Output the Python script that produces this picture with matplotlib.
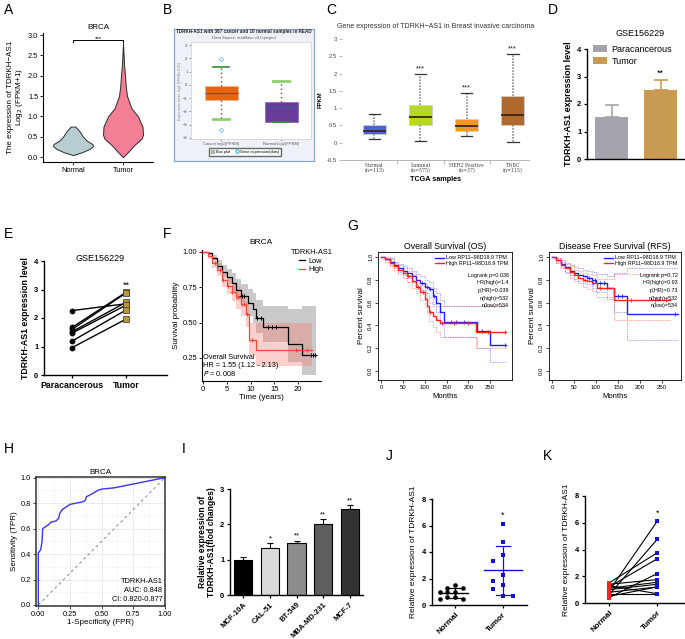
import matplotlib
matplotlib.use("Agg")
import matplotlib.pyplot as plt
import numpy as np
from matplotlib.patches import Patch
from matplotlib.lines import Line2D

plt.rcParams["font.family"] = ["Liberation Sans", "DejaVu Sans"]
plt.rcParams["axes.linewidth"] = 0.8

W, H = 685, 639

# ---- A: violin (profile of each violin: level, half width)
a_groups = ["Normal", "Tumor"]
a_norm_y = [0.05, 0.12, 0.2, 0.27, 0.32, 0.4, 0.5, 0.6, 0.68, 0.73, 0.75]
a_norm_w = [0.0, 0.18, 0.33, 0.4, 0.39, 0.28, 0.2, 0.15, 0.1, 0.06, 0.05]
a_tum_y = [0.0, 0.15, 0.3, 0.45, 0.55, 0.75, 1.0, 1.2, 1.5, 1.75, 2.0, 2.3, 2.6, 2.8]
a_tum_w = [0.0, 0.12, 0.23, 0.37, 0.4, 0.39, 0.3, 0.17, 0.08, 0.055, 0.04, 0.02, 0.008, 0.0]

# ---- B: starBase box plot
b_labels = ["Cancer log2(FPKM)", "Normal log2(FPKM)"]
b_med = [-0.6, -1.69]
b_q1 = [-1.13, -2.77]
b_q3 = [-0.08, -1.26]
b_lo = [-2.6, -2.8]
b_hi = [1.37, 0.32]
b_fliers = [[1.95, -3.4], []]

# ---- C: UALCAN box plot
c_labels = ["Normal\n(n=113)", "Luminal\n(n=575)", "HER2 Positive\n(n=37)", "TNBC\n(n=115)"]
c_med = [0.33, 0.75, 0.48, 0.79]
c_q1 = [0.25, 0.5, 0.35, 0.5]
c_q3 = [0.5, 1.08, 0.68, 1.35]
c_lo = [0.1, 0.05, 0.19, 0.02]
c_hi = [0.83, 1.98, 1.44, 2.57]
c_sig = ["", "***", "***", "***"]

# ---- D: GSE156229 bars
d_groups = ["Paracancerous", "Tumor"]
d_mean = [1.52, 2.5]
d_err = [0.43, 0.37]

# ---- E: paired GSE156229
e_para = [2.26, 1.67, 1.6, 1.52, 1.47, 1.19, 0.96]
e_tumor = [2.5, 2.9, 2.88, 2.55, 2.45, 2.28, 1.96]

# ---- F: KM BRCA (years)
f_low_t = [0, 1, 2, 3, 4, 5, 6, 7, 8, 9.5, 10.5, 11.2, 12.7, 17.9, 20.8, 23.8]
f_low_s = [1, 0.99, 0.96, 0.9, 0.86, 0.82, 0.78, 0.73, 0.69, 0.64, 0.6, 0.53, 0.47, 0.35, 0.27, 0.27]
f_low_lo = [1, 0.98, 0.94, 0.87, 0.82, 0.77, 0.72, 0.66, 0.61, 0.55, 0.5, 0.43, 0.36, 0.22, 0.13, 0.13]
f_low_hi = [1, 1, 0.98, 0.94, 0.91, 0.88, 0.85, 0.81, 0.77, 0.74, 0.71, 0.66, 0.62, 0.6, 0.62, 0.62]
f_high_t = [0, 1, 2, 3, 4, 5, 6, 7, 8, 9, 9.7, 11.2, 22.9]
f_high_s = [1, 0.97, 0.92, 0.87, 0.8, 0.76, 0.72, 0.68, 0.63, 0.56, 0.38, 0.305, 0.305]
f_high_lo = [1, 0.95, 0.89, 0.83, 0.75, 0.7, 0.65, 0.6, 0.55, 0.47, 0.27, 0.19, 0.19]
f_high_hi = [1, 0.99, 0.96, 0.92, 0.86, 0.82, 0.79, 0.75, 0.71, 0.65, 0.5, 0.5, 0.5]
f_low_cens = [8.0, 8.3, 8.7, 11.4, 12.2, 13.7, 14.6, 15.3, 22.8, 23.1, 23.5]
f_high_cens = [2.5, 3.5, 4.2, 5.3, 6.2, 7.4, 8.6, 9.2, 10.3, 19.5, 21.0, 21.8]

# ---- G: GEPIA OS / RFS (months)
os_low_t = [0, 10, 20, 30, 40, 50, 60, 70, 80, 90, 100, 110, 118, 126, 134, 145, 220, 250, 287]
os_low_s = [1, 0.985, 0.96, 0.93, 0.9, 0.88, 0.86, 0.83, 0.8, 0.77, 0.74, 0.72, 0.66, 0.6, 0.52, 0.43, 0.35, 0.23, 0.23]
os_low_hi = [1, 1, 0.99, 0.96, 0.94, 0.92, 0.9, 0.88, 0.85, 0.83, 0.8, 0.78, 0.73, 0.68, 0.62, 0.57, 0.57, 0.57, 0.57]
os_low_lo = [1, 0.97, 0.93, 0.9, 0.87, 0.84, 0.82, 0.78, 0.75, 0.71, 0.68, 0.65, 0.59, 0.52, 0.42, 0.3, 0.2, 0.08, 0.08]
os_high_t = [0, 10, 20, 30, 40, 50, 60, 70, 80, 90, 100, 105, 110, 118, 126, 134, 218, 287]
os_high_s = [1, 0.98, 0.95, 0.92, 0.89, 0.86, 0.83, 0.79, 0.74, 0.69, 0.63, 0.57, 0.52, 0.48, 0.45, 0.42, 0.34, 0.34]
os_high_hi = [1, 0.99, 0.98, 0.95, 0.93, 0.9, 0.88, 0.84, 0.8, 0.75, 0.7, 0.64, 0.6, 0.57, 0.57, 0.57, 0.57, 0.57]
os_high_lo = [1, 0.96, 0.92, 0.89, 0.85, 0.82, 0.78, 0.73, 0.68, 0.62, 0.56, 0.5, 0.44, 0.39, 0.34, 0.3, 0.2, 0.2]
os_low_cens = [95, 105, 113, 122, 160, 172, 190, 232, 283]
os_high_cens = [62, 84, 96, 112, 140, 168, 200, 245, 285]
os_stats = ["Logrank p=0.038", "HR(high)=1.4", "p(HR)=0.039", "n(high)=532", "n(low)=534"]

rfs_low_t = [0, 10, 20, 30, 40, 50, 60, 70, 80, 90, 100, 126, 140, 170, 286]
rfs_low_s = [1, 0.97, 0.94, 0.91, 0.88, 0.86, 0.84, 0.83, 0.82, 0.8, 0.77, 0.73, 0.66, 0.5, 0.5]
rfs_low_hi = [1, 0.99, 0.97, 0.95, 0.93, 0.91, 0.9, 0.89, 0.88, 0.87, 0.85, 0.83, 0.86, 0.9, 0.9]
rfs_low_lo = [1, 0.95, 0.91, 0.87, 0.84, 0.81, 0.79, 0.77, 0.76, 0.73, 0.69, 0.63, 0.52, 0.27, 0.27]
rfs_high_t = [0, 10, 20, 30, 40, 50, 60, 70, 80, 90, 103, 140, 267]
rfs_high_s = [1, 0.97, 0.93, 0.9, 0.87, 0.84, 0.82, 0.8, 0.79, 0.77, 0.73, 0.62, 0.62]
rfs_high_hi = [1, 0.99, 0.96, 0.94, 0.92, 0.89, 0.88, 0.86, 0.85, 0.84, 0.81, 0.85, 0.85]
rfs_high_lo = [1, 0.95, 0.9, 0.86, 0.82, 0.79, 0.77, 0.74, 0.72, 0.7, 0.65, 0.45, 0.45]
rfs_low_cens = [85, 98, 108, 118, 150, 160, 280]
rfs_high_cens = [75, 92, 110, 125, 180, 235, 260]
rfs_stats = ["Logrank p=0.72", "HR(high)=0.93", "p(HR)=0.73", "n(high)=532", "n(low)=534"]

# ---- H: ROC
h_fpr = [0, 0, 0.01, 0.02, 0.03, 0.035, 0.05, 0.08, 0.1, 0.14, 0.16, 0.17, 0.19, 0.22, 0.25,
         0.3, 0.35, 0.37, 0.38, 0.42, 0.47, 0.5, 0.6, 0.7, 0.8, 0.9, 1.0]
h_tpr = [0, 0.41, 0.42, 0.44, 0.5, 0.6, 0.61, 0.63, 0.65, 0.66, 0.68, 0.72, 0.75, 0.77, 0.79,
         0.8, 0.81, 0.82, 0.85, 0.87, 0.9, 0.91, 0.92, 0.94, 0.96, 0.98, 1.0]

# ---- I: cell lines
i_cells = ["MCF-10A", "CAL-51", "BT-549", "MBA-MD-231", "MCF-7"]
i_vals = [1.0, 1.32, 1.48, 2.0, 2.42]
i_err = [0.08, 0.14, 0.05, 0.15, 0.12]
i_sig = ["", "*", "**", "**", "**"]

# ---- J / K: qPCR tissues
j_normal = [1.5, 1.3, 1.25, 1.0, 1.0, 1.0, 0.63, 0.63, 0.43, 0.43]
j_tumor = [6.1, 4.75, 3.75, 3.3, 2.25, 1.8, 1.5, 1.2, 0.7, 0.7]
k_normal = [0.9, 0.6, 1.5, 1.2, 0.4, 1.4, 1.1, 1.0, 0.5, 0.8, 1.3, 0.7]
k_tumor = [6.1, 4.75, 3.75, 3.3, 2.2, 1.75, 1.55, 1.4, 1.2, 1.2, 0.7, 0.7]


def px_ax(fig, l, t, r, b):
    return fig.add_axes([l / W, 1 - b / H, (r - l) / W, (b - t) / H])


def ftext(fig, x, y, s, **kw):
    fig.text(x / W, 1 - y / H, s, **kw)


def bold_ticks(ax):
    for lbl in ax.get_xticklabels() + ax.get_yticklabels():
        lbl.set_fontweight("bold")


def prism_axes(ax):
    ax.spines[["top", "right"]].set_visible(False)
    ax.spines[["left", "bottom"]].set_linewidth(1.0)
    ax.tick_params(labelsize=5.5, length=2.5, width=0.9, pad=1.5)


def swarm(vals, dx, dy):
    vals = np.asarray(vals, float)
    offs = np.zeros(len(vals))
    placed = []
    cands = [0.0] + [s * k * dx for k in range(1, 8) for s in (-1, 1)]
    for i in np.argsort(-vals):
        for c in cands:
            if all(abs(c - offs[j]) >= dx * 0.99 or abs(vals[i] - vals[j]) >= dy for j in placed):
                offs[i] = c
                break
        placed.append(i)
    return offs


def step_at(t, s, x):
    idx = np.searchsorted(t, x, side="right") - 1
    return np.asarray(s)[idx]


def panel_a(fig):
    ax = px_ax(fig, 43, 33, 153, 162)
    for pos, ys, ws, col in [(1, a_norm_y, a_norm_w, "#b7cdd1"), (2, a_tum_y, a_tum_w, "#f27f93")]:
        ys = np.array(ys)
        ws = np.array(ws)
        ax.fill_betweenx(ys, pos - ws, pos + ws, facecolor=col, edgecolor="#2b2b2b", lw=0.7)
    ax.set_xlim(0.4, 2.6)
    ax.set_ylim(-0.12, 3.05)
    ax.set_xticks([1, 2], a_groups)
    yt = np.arange(0, 3.01, 0.5)
    ax.set_yticks(yt, [f"{v:.1f}" for v in yt])
    ax.spines[["top", "right"]].set_visible(False)
    ax.tick_params(labelsize=5.3, length=2, width=0.6, pad=1.5)
    top = max(a_tum_y) + 0.08
    ax.plot([1, 1, 2, 2], [top - 0.06, top, top, top - 0.06], color="k", lw=0.7)
    ax.text(1.5, top - 0.02, "***", ha="center", va="bottom", fontsize=4.5)
    ax.set_ylabel("The expression of TDRKH\u2212AS1\nLog$_2$ (FPKM+1)", fontsize=5.8, labelpad=2,
                  linespacing=0.95)
    ax.set_title("BRCA", fontsize=5.8, pad=3)


def panel_b(fig):
    frame = px_ax(fig, 174, 29, 314, 161)
    frame.set_facecolor("#eef2f8")
    frame.set_xticks([])
    frame.set_yticks([])
    for sp in frame.spines.values():
        sp.set_color("#86a0cc")
        sp.set_linewidth(0.8)
    ftext(fig, 244, 32, "TDRKH-AS1 with 367 cancer and 10 normal samples in READ",
          ha="center", va="center", fontsize=3.3, fontweight="bold", color="#222")
    ftext(fig, 244, 37.5, "Data Source: starBase v3.0 project", ha="center", va="center",
          fontsize=3.0, color="#555")

    ax = px_ax(fig, 191, 42, 311, 139)
    ax.set_facecolor("white")
    stats = []
    for k in range(2):
        stats.append(dict(med=b_med[k], q1=b_q1[k], q3=b_q3[k], whislo=b_lo[k],
                          whishi=b_hi[k], fliers=b_fliers[k], label=b_labels[k]))
    bp = ax.bxp(stats, positions=[0, 1], widths=0.55, patch_artist=True,
                whiskerprops=dict(color="#b02a2a", linestyle=(0, (1, 2)), lw=1.0),
                capprops=dict(color="#3a9a3a", lw=1.4),
                medianprops=dict(color="#3a5fa0", lw=0.9),
                flierprops=dict(marker="D", markerfacecolor="none", markeredgecolor="#67c3e6",
                                markersize=2.2, markeredgewidth=0.6))
    for patch, col in zip(bp["boxes"], ["#e8650c", "#693c9a"]):
        patch.set_facecolor(col)
        patch.set_edgecolor("#f2b48a" if col == "#e8650c" else "#8e6cc0")
        patch.set_linewidth(0.6)
    # caps: lower/upper per box -> light green on the long ends
    for cap, col, lw in zip(bp["caps"], ["#8fce6f", "#2f8f2f", "#2f8f2f", "#8fce6f"],
                            [2.0, 1.2, 1.2, 2.0]):
        cap.set_color(col)
        cap.set_linewidth(lw)
    ax.set_xlim(-0.5, 1.5)
    ax.set_ylim(-4.08, 3.23)
    ax.set_yticks(range(-4, 4))
    ax.tick_params(labelsize=3.0, length=1.5, width=0.4, colors="#555", pad=1)
    for sp in ax.spines.values():
        sp.set_color("#d4d4d4")
        sp.set_linewidth(0.6)
    ax.set_ylabel("Expression level: log2 (FPKM+0.01)", fontsize=2.6, color="#888", labelpad=1)
    handles = [Patch(facecolor="#c9c9c9", edgecolor="#aaa"),
               Line2D([], [], marker="D", color="none", markerfacecolor="none",
                      markeredgecolor="#67c3e6", markersize=2.2)]
    ax.legend(handles, ["Box plot", "Gene expression(dots)"], loc="upper center",
              bbox_to_anchor=(0.45, -0.07), ncol=2, fontsize=2.8, frameon=True, fancybox=False,
              edgecolor="#444", borderpad=0.5, handlelength=1.0, columnspacing=1.2,
              handletextpad=0.4)


def panel_c(fig):
    ax = px_ax(fig, 342, 39, 529, 160)
    stats = []
    for k in range(4):
        stats.append(dict(med=c_med[k], q1=c_q1[k], q3=c_q3[k], whislo=c_lo[k],
                          whishi=c_hi[k], fliers=[], label=c_labels[k]))
    bp = ax.bxp(stats, positions=range(4), widths=0.5, patch_artist=True,
                whiskerprops=dict(color="#8a8a8a", linestyle=(0, (1, 0.8)), lw=1.2),
                capprops=dict(color="#333", lw=0.9),
                medianprops=dict(color="#3a2a10", lw=1.3))
    for patch, col in zip(bp["boxes"], ["#4f5fe0", "#b6d81e", "#f5961e", "#b0692c"]):
        patch.set_facecolor(col)
        patch.set_edgecolor("#cfcfcf")
        patch.set_linewidth(0.6)
    for k, s in enumerate(c_sig):
        if s:
            ax.text(k, c_hi[k] + 0.04, s, ha="center", va="bottom", fontsize=5.5, color="#222")
    ax.set_xlim(-0.7, 3.35)
    ax.set_ylim(-0.5, 3.0)
    yt = [-0.5, 0, 0.5, 1, 1.5, 2, 2.5, 3]
    ax.set_yticks(yt, ["-0.5", "0", "0.5", "1", "1.5", "2", "2.5", "3"])
    ax.set_xticks(range(4))
    ax.set_xticklabels(c_labels, fontsize=3.4, family="serif", color="#444", linespacing=1.1)
    ax.set_xticks([0.5, 1.5, 2.5], minor=True)
    ax.tick_params(axis="x", which="major", length=0, pad=2)
    ax.tick_params(axis="x", which="minor", length=3, color="#999", width=0.5)
    ax.tick_params(axis="y", labelsize=4.2, length=2.5, color="#999", width=0.5,
                   labelcolor="#444", pad=1)
    ax.spines[["top", "right", "left"]].set_visible(False)
    ax.spines["bottom"].set_color("#aaa")
    ax.spines["bottom"].set_linewidth(0.6)
    ax.set_xlabel("TCGA samples", fontsize=5.2, fontweight="bold", labelpad=2)
    ax.set_ylabel("FPKM", fontsize=4.2, fontweight="bold", labelpad=3)
    ax.set_title("Gene expression of TDRKH\u2212AS1 in Breast invasive carcinoma",
                 fontsize=5.0, color="#333", pad=8)


def panel_d(fig):
    ax = px_ax(fig, 587, 49, 685, 159)
    cols = ["#a5a4aa", "#c99a52"]
    x = np.arange(len(d_mean))
    ax.bar(x, d_mean, width=0.68, color=cols)
    for k in range(len(d_mean)):
        ax.errorbar(x[k], d_mean[k], yerr=[[0], [d_err[k]]], fmt="none", ecolor=cols[k],
                    elinewidth=1.2, capsize=5, capthick=1.2)
    ax.text(1, d_mean[1] + d_err[1] + 0.08, "**", ha="center", va="bottom", fontsize=6.5)
    ax.set_xlim(-0.5, 1.5)
    ax.set_ylim(0, 4)
    ax.set_xticks([])
    ax.set_yticks(range(5))
    prism_axes(ax)
    bold_ticks(ax)
    ax.set_ylabel("TDRKH-AS1 expression level", fontsize=6.5, fontweight="bold", labelpad=3)
    ftext(fig, 640, 33, "GSE156229", ha="center", va="center", fontsize=6.5)
    handles = [Patch(facecolor=c) for c in cols]
    ax.legend(handles, d_groups, loc="upper left", bbox_to_anchor=(0.02, 1.07), fontsize=6.5,
              frameon=False, handlelength=1.6, handleheight=0.8, handletextpad=0.5,
              labelspacing=0.3, borderaxespad=0)


def panel_e(fig):
    ax = px_ax(fig, 44, 261, 167, 375)
    for p, t in zip(e_para, e_tumor):
        ax.plot([0, 1], [p, t], color="black", lw=1.0, zorder=2)
    ax.scatter(np.zeros(len(e_para)), e_para, s=10, color="black", zorder=3)
    ax.scatter(np.ones(len(e_tumor)), e_tumor, s=13, marker="s", facecolor="#b8963e",
               edgecolor="#333", linewidth=0.5, zorder=3)
    ax.text(1, max(e_tumor) + 0.08, "**", ha="center", va="bottom", fontsize=6.5)
    ax.set_xlim(-0.52, 1.76)
    ax.set_ylim(0, 4)
    ax.set_xticks([0, 1], ["Paracancerous", "Tumor"])
    ax.set_yticks(range(5))
    prism_axes(ax)
    ax.tick_params(axis="x", labelsize=6.3)
    bold_ticks(ax)
    ax.set_ylabel("TDRKH-AS1 expression level", fontsize=6.3, fontweight="bold", labelpad=3)
    ftext(fig, 100, 258, "GSE156229", ha="center", va="center", fontsize=6.5)


def panel_f(fig):
    ax = px_ax(fig, 202, 250, 321, 381)
    groups = [
        (f_low_t, f_low_s, f_low_lo, f_low_hi, f_low_cens, "black", "#9d9d9d", 0.55),
        (f_high_t, f_high_s, f_high_lo, f_high_hi, f_high_cens, "#f0493c", "#f8766d", 0.35),
    ]
    for t, s, lo, hi, cens, lc, fc, al in groups:
        ax.fill_between(t, lo, hi, step="post", color=fc, alpha=al, lw=0)
    for t, s, lo, hi, cens, lc, fc, al in groups:
        ax.step(t, s, where="post", color=lc, lw=0.9)
        ax.plot(cens, step_at(t, s, cens), "+", color=lc, ms=3.5, mew=0.7)
    ax.set_xlim(-0.2, 24.8)
    ax.set_ylim(0.087, 1.014)
    ax.set_xticks([0, 5, 10, 15, 20])
    ax.set_yticks([0.25, 0.5, 0.75, 1.0], ["0.25", "0.50", "0.75", "1.00"])
    ax.spines[["top", "right"]].set_visible(False)
    ax.tick_params(labelsize=5.5, length=2, width=0.6, pad=1.5)
    ax.set_xlabel("Time (years)", fontsize=5.8, labelpad=1)
    ax.set_ylabel("Survival probability", fontsize=5.8, labelpad=2)
    ax.set_title("BRCA", fontsize=6, pad=4)
    handles = [Line2D([], [], color="black", lw=0.9), Line2D([], [], color="#f0493c", lw=0.9)]
    ax.legend(handles, ["Low", "High"], title="TDRKH-AS1", loc="upper right",
              bbox_to_anchor=(1.12, 1.03), fontsize=5.3, title_fontsize=5.3, frameon=False,
              handlelength=0.8, handletextpad=0.5, labelspacing=0.2, borderaxespad=0)
    ax.text(0.01, 0.02, "Overall Survival\nHR = 1.55 (1.12 - 2.13)\n$P$ = 0.008",
            transform=ax.transAxes, fontsize=5.3, va="bottom", ha="left", linespacing=1.1)


def gepia(ax, low, high, stats, title, xmax):
    for (t, s, lo, hi, cens), col in zip([low, high], ["#2020ff", "#ff2020"]):
        ax.step(t, hi, where="post", color=col, lw=0.6, ls=(0, (1, 1)), alpha=0.55)
        ax.step(t, lo, where="post", color=col, lw=0.6, ls=(0, (1, 1)), alpha=0.55)
        ax.step(t, s, where="post", color=col, lw=1.0)
        ax.plot(cens, step_at(t, s, cens), "|", color=col, ms=3, mew=0.6)
    ax.set_xlim(-6.9, xmax)
    ax.set_ylim(-0.079, 1.044)
    ax.set_xticks(range(0, 251, 50))
    ax.set_yticks(np.arange(0, 1.01, 0.2), [f"{v:.1f}" for v in np.arange(0, 1.01, 0.2)])
    ax.tick_params(labelsize=4.3, length=2, width=0.5, pad=1.5)
    plt.setp(ax.get_yticklabels(), rotation=90, va="center")
    for sp in ax.spines.values():
        sp.set_linewidth(0.6)
    ax.set_title(title, fontsize=6.3, pad=2)
    ax.set_xlabel("Months", fontsize=5.5, labelpad=2)
    ax.set_ylabel("Percent survival", fontsize=5.8, labelpad=2)
    handles = [Line2D([], [], color="#2020ff", lw=1), Line2D([], [], color="#ff2020", lw=1)]
    ax.legend(handles, ["Low RP11\u221298D18.9 TPM", "High RP11\u221298D18.9 TPM"],
              loc="upper right", bbox_to_anchor=(0.99, 0.99), fontsize=3.9, frameon=False,
              handlelength=1.6, handletextpad=0.4, labelspacing=0.1, borderaxespad=0)
    for k, s in enumerate(stats):
        ax.text(0.975, 0.82 - 0.06 * k, s, transform=ax.transAxes, ha="right", va="center",
                fontsize=3.9)


def panel_g(fig):
    ax1 = px_ax(fig, 378, 252, 512, 380)
    gepia(ax1, (os_low_t, os_low_s, os_low_lo, os_low_hi, os_low_cens),
          (os_high_t, os_high_s, os_high_lo, os_high_hi, os_high_cens),
          os_stats, "Overall Survival (OS)", 300)
    ax2 = px_ax(fig, 549, 252, 681, 380)
    gepia(ax2, (rfs_low_t, rfs_low_s, rfs_low_lo, rfs_low_hi, rfs_low_cens),
          (rfs_high_t, rfs_high_s, rfs_high_lo, rfs_high_hi, rfs_high_cens),
          rfs_stats, "Disease Free Survival (RFS)", 293)


def panel_h(fig):
    ax = px_ax(fig, 36, 477, 165, 606)
    ax.plot([0, 1], [0, 1], color="#888", ls=(0, (3, 3)), lw=0.7)
    ax.plot(h_fpr, h_tpr, color="#3636f0", lw=1.0)
    ax.set_xlim(-0.018, 1.0)
    ax.set_ylim(-0.008, 1.005)
    ax.set_xticks([0, 0.25, 0.5, 0.75, 1.0], ["0.00", "0.25", "0.50", "0.75", "1.00"])
    ax.set_yticks(np.arange(0, 1.01, 0.2), [f"{v:.1f}" for v in np.arange(0, 1.01, 0.2)])
    ax.set_xticks(np.arange(0.125, 1, 0.25), minor=True)
    ax.set_yticks(np.arange(0.1, 1, 0.2), minor=True)
    ax.grid(True, which="major", color="#e6e6e6", lw=0.6)
    ax.grid(True, which="minor", color="#f2f2f2", lw=0.4)
    ax.set_axisbelow(True)
    ax.tick_params(labelsize=5.3, length=2, width=0.5, pad=1.5)
    ax.tick_params(which="minor", length=0)
    for sp in ax.spines.values():
        sp.set_linewidth(1.1)
        sp.set_color("#333")
    ax.set_title("BRCA", fontsize=5.8, pad=2)
    ax.set_xlabel("1-Specificity (FPR)", fontsize=5.8, labelpad=1)
    ax.set_ylabel("Sensitivity (TPR)", fontsize=5.8, labelpad=2)
    ax.text(0.98, 0.02, "TDRKH-AS1\nAUC: 0.848\nCI: 0.820-0.877", transform=ax.transAxes,
            ha="right", va="bottom", fontsize=5.3, linespacing=1.45)


def panel_i(fig):
    ax = px_ax(fig, 230, 489, 363, 595)
    x = np.arange(len(i_vals))
    cols = ["#000000", "#d9d9d9", "#8c8c8c", "#5e5e5e", "#333333"]
    ax.bar(x, i_vals, width=0.68, color=cols, edgecolor="black", linewidth=0.8, zorder=2)
    ax.errorbar(x, i_vals, yerr=[np.zeros(len(i_err)), i_err], fmt="none", ecolor="black",
                elinewidth=0.8, capsize=2.5, capthick=0.8, zorder=1)
    for k, s in enumerate(i_sig):
        if s:
            ax.text(k, i_vals[k] + i_err[k] + 0.03, s, ha="center", va="bottom", fontsize=5.5)
    ax.set_xlim(-0.5, 4.5)
    ax.set_ylim(0, 3)
    ax.set_yticks(range(4))
    ax.set_xticks(x, i_cells, rotation=45, ha="right", rotation_mode="anchor")
    prism_axes(ax)
    ax.tick_params(axis="x", labelsize=5.5, pad=2)
    bold_ticks(ax)
    ax.set_ylabel("Relative expression of\nTDRKH-AS1(flod changes)", fontsize=6.2,
                  fontweight="bold", labelpad=3, linespacing=1.0)


def panel_j(fig):
    ax = px_ax(fig, 432, 499, 527, 605)
    for k, (vals, col, mk, half, dx, dy) in enumerate([(j_normal, "black", "o", 0.28, 0.16, 0.3),
                                                      (j_tumor, "#1010e0", "s", 0.4, 0.2, 0.6)]):
        vals = np.asarray(vals)
        offs = swarm(vals, dx, dy)
        ax.scatter(k + offs, vals, s=11, marker=mk, color=col, zorder=3, linewidths=0)
        m = vals.mean()
        sd = vals.std(ddof=1)
        ax.plot([k - half, k + half], [m, m], color=col, lw=1.0, zorder=2)
        ax.plot([k, k], [m - sd, m + sd], color=col, lw=0.9, zorder=2)
        ax.plot([k - 0.14, k + 0.14], [m - sd, m - sd], color=col, lw=0.9, zorder=2)
        ax.plot([k - 0.14, k + 0.14], [m + sd, m + sd], color=col, lw=0.9, zorder=2)
    ax.text(1, max(j_tumor) + 0.35, "*", ha="center", va="bottom", fontsize=6.5)
    ax.set_xlim(-0.48, 1.5)
    ax.set_ylim(0, 8)
    ax.set_yticks(range(0, 9, 2))
    ax.set_xticks([0, 1], ["Normal", "Tumor"], rotation=45, ha="right", rotation_mode="anchor")
    prism_axes(ax)
    ax.tick_params(axis="x", labelsize=5.8, pad=2)
    bold_ticks(ax)
    ax.set_ylabel("Relative expression of TDRKH-AS1", fontsize=6.0, labelpad=4)


def panel_k(fig):
    ax = px_ax(fig, 585, 496, 685, 603)
    for n, t in zip(k_normal, k_tumor):
        ax.plot([0, 1], [n, t], color="black", lw=0.8, zorder=2)
    ax.scatter(np.zeros(len(k_normal)), k_normal, s=10, marker="s", color="#ff2020", zorder=3,
               linewidths=0)
    ax.scatter(np.ones(len(k_tumor)), k_tumor, s=10, marker="s", color="#1010e0", zorder=3,
               linewidths=0)
    ax.text(1, max(k_tumor) + 0.3, "*", ha="center", va="bottom", fontsize=6.5)
    ax.set_xlim(-0.5, 1.58)
    ax.set_ylim(0, 8)
    ax.set_yticks(range(0, 9, 2))
    ax.set_xticks([0, 1], ["Normal", "Tumor"], rotation=45, ha="right", rotation_mode="anchor")
    prism_axes(ax)
    ax.tick_params(axis="x", labelsize=5.8, pad=2)
    bold_ticks(ax)
    ax.set_ylabel("Relative expression of TDRKH-AS1", fontsize=6.0, labelpad=4)


def main() -> int:
    fig = plt.figure(figsize=(W / 100, H / 100), dpi=100)
    fig.patch.set_facecolor("white")

    panel_a(fig)
    panel_b(fig)
    panel_c(fig)
    panel_d(fig)
    panel_e(fig)
    panel_f(fig)
    panel_g(fig)
    panel_h(fig)
    panel_i(fig)
    panel_j(fig)
    panel_k(fig)

    letters = [("A", 4, 10), ("B", 163, 10), ("C", 326, 10), ("D", 548, 10),
               ("E", 4, 234), ("F", 163, 234), ("G", 347, 226),
               ("H", 4, 449), ("I", 182, 449), ("J", 386, 456), ("K", 543, 456)]
    for s, x, y in letters:
        ftext(fig, x, y, s, fontsize=10, ha="left", va="center")

    fig.savefig("out.png", dpi=100)
    return 0


if __name__ == "__main__":
    raise SystemExit(main())
